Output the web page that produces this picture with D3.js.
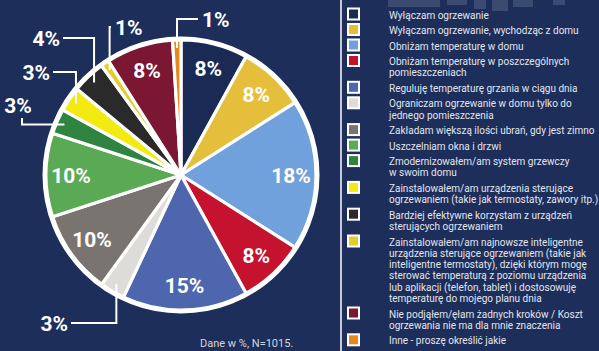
<!DOCTYPE html>
<html>
<head>
<meta charset="utf-8">
<script src="https://cdn.jsdelivr.net/npm/d3@7"></script>
<style>
  html, body { margin: 0; padding: 0; background: #1d2e5a; }
  svg { display: block; font-family: Roboto, "Noto Sans", sans-serif; }
</style>
</head>
<body>
<svg id="chart" width="599" height="351"></svg>
<script>
// Categories in clockwise order from 12 o'clock
const categories = [
    ['Wyłączam ogrzewanie'],
    ['Wyłączam ogrzewanie, wychodząc z domu'],
    ['Obniżam temperaturę w domu'],
    ['Obniżam temperaturę w poszczególnych', 'pomieszczeniach'],
    ['Reguluję temperaturę grzania w ciągu dnia'],
    ['Ograniczam ogrzewanie w domu tylko do', 'jednego pomieszczenia'],
    ['Zakładam większą ilości ubrań, gdy jest zimno'],
    ['Uszczelniam okna i drzwi'],
    ['Zmodernizowałem/am system grzewczy', 'w swoim domu'],
    ['Zainstalowałem/am urządzenia sterujące', 'ogrzewaniem (takie jak termostaty, zawory itp.)'],
    ['Bardziej efektywne korzystam z urządzeń', 'sterujących ogrzewaniem'],
    ['Zainstalowałem/am najnowsze inteligentne', 'urządzenia sterujące ogrzewaniem (takie jak',
     'inteligentne termostaty), dzięki którym mogę', 'sterować temperaturą z poziomu urządzenia',
     'lub aplikacji (telefon, tablet) i dostosowuję', 'temperaturę do mojego planu dnia'],
    ['Nie podjąłem/ęłam żadnych kroków / Koszt', 'ogrzewania nie ma dla mnie znaczenia'],
    ['Inne - proszę określić jakie']
];

const values = [8, 8, 18, 8, 15, 3, 10, 10, 3, 3, 4, 1, 8, 1];

const colors = ['#1b2a55', '#e5bf3c', '#70a1dc', '#c4122f', '#4d66ae', '#dedcd8', '#7a7470',
                '#5aa955', '#2f8442', '#f3ea12', '#2a2a2a', '#e2cd2c', '#7b1733', '#e3891f'];

const note = 'Dane w %, N=1015.';

// Slices labelled outside the pie, with their leader line routes
const outside = [
    { i: 5,  route: 'vh', x: 71,  y: 323, anchor: 'end' },
    { i: 8,  route: 'hv', x: 22,  y: 118, anchor: 'middle' },
    { i: 9,  route: 'vh', x: 53,  y: 72,  anchor: 'end' },
    { i: 10, route: 'vh', x: 63,  y: 38,  anchor: 'end' },
    { i: 11, route: 'vh', x: 111, y: 27,  anchor: 'start' },
    { i: 13, route: 'vh', x: 198, y: 19,  anchor: 'start' }
];

const svg = d3.select('#chart');
const cx = 181, cy = 175, R = 135;

// Faint background blocks at the top right
const deco = [[388, 0, 52, 7], [447, 0, 20, 5], [474, 0, 12, 9], [492, 0, 16, 11], [513, 0, 20, 7], [553, 0, 12, 5]];
svg.append('g').selectAll('rect')
    .data(deco)
    .join('rect')
    .attr('x', d => d[0]).attr('y', d => d[1])
    .attr('width', d => d[2]).attr('height', d => d[3])
    .attr('fill', '#3a4a71');

const pie = d3.pie().sort(null).value(d => d)(values);
const arc = d3.arc().innerRadius(0).outerRadius(R);
const labelArc = d3.arc().innerRadius(110).outerRadius(110);
const leaderArc = d3.arc().innerRadius(127).outerRadius(127);

const g = svg.append('g').attr('transform', `translate(${cx},${cy})`);

g.selectAll('path.slice')
    .data(pie)
    .join('path')
    .attr('class', 'slice')
    .attr('d', arc)
    .attr('fill', (d, i) => colors[i])
    .attr('stroke', '#fff')
    .attr('stroke-width', 3.2)
    .attr('stroke-linejoin', 'round');

g.append('circle')
    .attr('r', R + 1.5)
    .attr('fill', 'none')
    .attr('stroke', '#fff')
    .attr('stroke-width', 4);

// Inside labels
const outsideIdx = outside.map(d => d.i);
g.selectAll('text.inside')
    .data(pie.filter((d, i) => !outsideIdx.includes(i)))
    .join('text')
    .attr('class', 'inside')
    .attr('transform', d => `translate(${labelArc.centroid(d)})`)
    .attr('text-anchor', 'middle')
    .attr('dy', '0.36em')
    .attr('fill', '#fff')
    .attr('font-size', 21)
    .attr('font-weight', 700)
    .text(d => d.value + '%');

// Outside labels with elbow leaders
outside.forEach(o => {
    const [px, py] = leaderArc.centroid(pie[o.i]).map((v, k) => v + (k ? cy : cx));
    const pts = o.route === 'vh'
        ? [[px, py], [px, o.y], [o.x, o.y]]
        : [[px, py], [o.x, py], [o.x, o.y]];
    svg.append('path')
        .attr('d', d3.line()(pts))
        .attr('fill', 'none')
        .attr('stroke', '#fff')
        .attr('stroke-width', 2);
    let tx = o.x, ty = o.y;
    if (o.anchor === 'end') tx -= 3;
    if (o.anchor === 'start') tx += 4;
    if (o.anchor === 'middle') { tx -= 4; ty -= 13; }
    svg.append('text')
        .attr('x', tx).attr('y', ty)
        .attr('dy', '0.36em')
        .attr('text-anchor', o.anchor)
        .attr('fill', '#fff')
        .attr('font-size', 21)
        .attr('font-weight', 700)
        .text(values[o.i] + '%');
});

// Legend
svg.append('line')
    .attr('x1', 341).attr('x2', 341)
    .attr('y1', 0).attr('y2', 351)
    .attr('stroke', '#fff')
    .attr('stroke-width', 1.5);

const lineH = 11.3, gap = 15.5;
let y = 15;
const legend = svg.append('g');
categories.forEach((lines, i) => {
    legend.append('rect')
        .attr('x', 348).attr('y', y - 6.5)
        .attr('width', 11).attr('height', 11)
        .attr('fill', colors[i])
        .attr('stroke', '#fff')
        .attr('stroke-width', 2);
    const t = legend.append('text')
        .attr('x', 389)
        .attr('y', y)
        .attr('fill', '#e2e5ec')
        .attr('font-size', 10);
    lines.forEach((s, k) => {
        t.append('tspan')
            .attr('x', 389)
            .attr('y', y + k * lineH)
            .attr('dy', '0.35em')
            .text(s);
    });
    y += (lines.length - 1) * lineH + gap;
});

svg.append('text')
    .attr('x', 200).attr('y', 343)
    .attr('dy', '0.35em')
    .attr('fill', '#d3d7df')
    .attr('font-size', 11)
    .text(note);
</script>
</body>
</html>
